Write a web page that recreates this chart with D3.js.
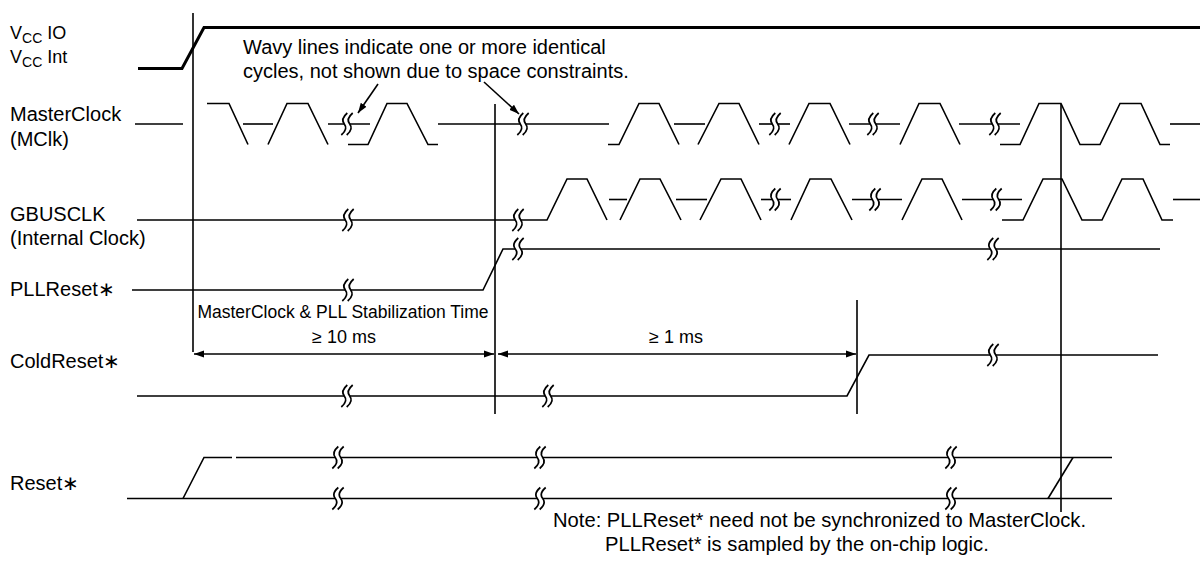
<!DOCTYPE html>
<html><head><meta charset="utf-8">
<script src="https://cdn.jsdelivr.net/npm/d3@7/dist/d3.min.js"></script>
<style>
html,body{margin:0;padding:0;background:#fff;}
svg text{font-family:"Liberation Sans",Arial,Helvetica,sans-serif;fill:#000;}
</style></head>
<body><svg id="c" width="1200" height="562"></svg>
<script>
// ---------------- DATA ----------------
const signals = ["VCC", "MasterClock", "GBUSCLK", "PLLReset", "ColdReset", "Reset"];
const signalLabels = [
  ["VCC IO", "VCC Int"],
  ["MasterClock", "(MClk)"],
  ["GBUSCLK", "(Internal Clock)"],
  ["PLLReset\u2217"],
  ["ColdReset\u2217"],
  ["Reset\u2217"]
];
// waveform segments: [time, level]  (H = high, M = undefined/mid, L = low)
const vccWave = [[[138,"L"],[182,"L"],[204,"H"],[1200,"H"]]];
const mclkWave = [
  [[135,"M"],[183,"M"]],
  [[207,"H"],[229,"H"],[248,"L"]],
  [[243,"M"],[273,"M"]],
  [[268,"L"],[287,"H"],[308,"H"],[328,"L"]],
  [[328,"M"],[370,"M"]],
  [[348,"L"],[368,"L"],[387,"H"],[407,"H"],[428,"L"],[438,"L"]],
  [[438,"M"],[609,"M"]],
  [[608,"L"],[619,"L"],[639,"H"],[659,"H"],[679,"L"]],
  [[674,"M"],[705,"M"]],
  [[698,"L"],[719,"H"],[739,"H"],[759,"L"]],
  [[759,"M"],[790,"M"]],
  [[789,"L"],[809,"H"],[830,"H"],[850,"L"]],
  [[849,"M"],[900,"M"]],
  [[900,"L"],[919,"H"],[940,"H"],[960,"L"]],
  [[959,"M"],[1020,"M"]],
  [[1000,"L"],[1020,"L"],[1039,"H"],[1061,"H"],[1080,"L"],[1100,"L"],[1120,"H"],[1141,"H"],[1160,"L"],[1170,"L"]],
  [[1170,"M"],[1200,"M"]]
];
const gbusWave = [
  [[137,"L"],[547,"L"],[567,"H"],[587,"H"],[607,"L"]],
  [[609,"M"],[627,"M"]],
  [[620,"L"],[640,"H"],[660,"H"],[681,"L"]],
  [[676,"M"],[707,"M"]],
  [[700,"L"],[721,"H"],[741,"H"],[761,"L"]],
  [[761,"M"],[791,"M"]],
  [[791,"L"],[810,"H"],[831,"H"],[852,"L"]],
  [[852,"M"],[902,"M"]],
  [[902,"L"],[922,"H"],[942,"H"],[962,"L"]],
  [[962,"M"],[1022,"M"]],
  [[1002,"L"],[1023,"L"],[1043,"H"],[1062,"H"],[1082,"L"],[1102,"L"],[1122,"H"],[1143,"H"],[1162,"L"],[1173,"L"]],
  [[1173,"M"],[1200,"M"]]
];
const pllWave = [[[132,"L"],[483,"L"],[503,"H"],[1160,"H"]]];
const coldWave = [[[137,"L"],[847,"L"],[869,"H"],[1158,"H"]]];
const resetWave = [
  [[183,"L"],[204,"H"],[232,"H"]],
  [[236,"H"],[1112,"H"]],
  [[127,"L"],[1112,"L"]],
  [[1048,"L"],[1073,"H"]]
];
// wavy break symbols: [signal, time, level]
const breaks = [
  ["MasterClock",347,"M"],["MasterClock",523,"M"],["MasterClock",775,"M"],["MasterClock",873,"M"],["MasterClock",995,"M"],
  ["GBUSCLK",348,"L"],["GBUSCLK",518,"L"],["GBUSCLK",775,"M"],["GBUSCLK",875,"M"],["GBUSCLK",996,"M"],
  ["PLLReset",348,"L"],["PLLReset",518,"H"],["PLLReset",993,"H"],
  ["ColdReset",347,"L"],["ColdReset",548,"L"],["ColdReset",993,"H"],
  ["Reset",338,"H"],["Reset",540,"H"],["Reset",951,"H"],
  ["Reset",338,"L"],["Reset",540,"L"],["Reset",951,"L"]
];
// timing markers: [time, from, to]
const markers = [[193,"top","dim"],[495,"MasterClock","ColdReset"],[857,"dimTop","ColdReset"],[1061,"MasterClock","Reset"]];
const intervals = [[193,495,"\u2265 10 ms"],[495,857,"\u2265 1 ms"]];
const stabilizationText = "MasterClock & PLL Stabilization Time";
const wavyNote = ["Wavy lines indicate one or more identical", "cycles, not shown due to space constraints."];
const wavyArrows = [[378,358],[484,519]]; // [text-side time, arrow tip time]
const noteText = ["Note: PLLReset* need not be synchronized to MasterClock.", "PLLReset* is sampled by the on-chip logic."];

// ---------------- LAYOUT ----------------
const svg = d3.select("#c");
const X = d3.scaleLinear().domain([0,1200]).range([0,1200]);
const rowY = d3.scaleOrdinal().domain(signals).range([48,124,199.5,269.5,375.5,478]);
const lvl = d3.scaleOrdinal().domain(["H","M","L"]).range([-20.5,0,20.5]);
const Y = (sig, l) => rowY(sig) + lvl(l);
const extraY = {top:13, dim:352, dimTop:300, MasterClock:104, ColdReset:414, Reset:512};
const markY = k => extraY[k];

const line = sig => d3.line().x(d=>X(d[0])).y(d=>Y(sig,d[1]));

// labels
const labelBase = [[39,63],[121,146],[221,245],[296],[368],[490]];
signals.forEach((s,i)=>{
  signalLabels[i].forEach((t,j)=>{
    const tx = svg.append("text").attr("x",10).attr("y",labelBase[i][j]).attr("font-size",20);
    if (s === "VCC") {
      const parts = t.split(" ");
      tx.append("tspan").text("V").attr("font-size",18);
      tx.append("tspan").text("CC").attr("font-size",14).attr("dy",4);
      tx.append("tspan").text(" " + parts[1]).attr("font-size",18).attr("dy",-4);
    } else tx.text(t);
  });
});

// markers
svg.append("g").selectAll("line").data(markers).join("line")
  .attr("x1",d=>X(d[0])).attr("x2",d=>X(d[0]))
  .attr("y1",d=>markY(d[1])).attr("y2",d=>markY(d[2]))
  .attr("stroke","#000").attr("stroke-width",1.6);

// waveforms
const waves = [["VCC",vccWave,3],["MasterClock",mclkWave,1.6],["GBUSCLK",gbusWave,1.6],["PLLReset",pllWave,1.6],["ColdReset",coldWave,1.6],["Reset",resetWave,1.6]];
waves.forEach(([s,segs,w])=>{
  svg.append("g").selectAll("path").data(segs).join("path")
    .attr("d",line(s)).attr("fill","none").attr("stroke","#000").attr("stroke-width",w);
});

// break symbols
const curve = (cx,cy,o) => `M${cx+o+3},${cy-11} Q${cx+o-4},${cy-5} ${cx+o},${cy} Q${cx+o+4},${cy+5} ${cx+o-3},${cy+11}`;
const bg = svg.append("g");
breaks.forEach(([s,t,l])=>{
  const cx = X(t), cy = Y(s,l);
  bg.append("path").attr("d",curve(cx,cy,0)).attr("fill","none").attr("stroke","#fff").attr("stroke-width",5);
  bg.append("path").attr("d",curve(cx,cy,-2.7)).attr("fill","none").attr("stroke","#000").attr("stroke-width",1.7);
  bg.append("path").attr("d",curve(cx,cy,2.7)).attr("fill","none").attr("stroke","#000").attr("stroke-width",1.7);
});

// arrows
const defs = svg.append("defs");
defs.append("marker").attr("id","ah").attr("viewBox","0 0 10 10").attr("refX",10).attr("refY",5)
  .attr("markerWidth",10).attr("markerHeight",10).attr("markerUnits","userSpaceOnUse").attr("orient","auto-start-reverse")
  .append("path").attr("d","M0,1.5 L10,5 L0,8.5 Z").attr("fill","#000");
const dimY = 354;
svg.append("g").selectAll("line").data(intervals).join("line")
  .attr("x1",(d,i)=>X(d[0])+(i?3:1)).attr("x2",d=>X(d[1])-1)
  .attr("y1",dimY).attr("y2",dimY).attr("stroke","#000").attr("stroke-width",1.5)
  .attr("marker-start","url(#ah)").attr("marker-end","url(#ah)");
svg.append("g").selectAll("text").data(intervals).join("text")
  .attr("x",d=>X((d[0]+d[1])/2)).attr("y",343).attr("text-anchor","middle").attr("font-size",18).text(d=>d[2]);
svg.append("text").attr("x",X(343)).attr("y",318).attr("text-anchor","middle").attr("font-size",17.5).text(stabilizationText);

// wavy note
svg.append("g").selectAll("text").data(wavyNote).join("text")
  .attr("x",243).attr("y",(d,i)=>54+i*24).attr("font-size",20).text(d=>d);
svg.append("g").selectAll("line").data(wavyArrows).join("line")
  .attr("x1",d=>X(d[0])).attr("y1",(d,i)=>i?82:84).attr("x2",d=>X(d[1])).attr("y2",(d,i)=>Y("MasterClock","M")-(i?10:11))
  .attr("stroke","#000").attr("stroke-width",1.6).attr("marker-end","url(#ah)");

// note
svg.append("g").selectAll("text").data(noteText).join("text")
  .attr("x",(d,i)=>i?605:553).attr("y",(d,i)=>527+i*24).attr("font-size",20.2).text(d=>d);
</script></body></html>
